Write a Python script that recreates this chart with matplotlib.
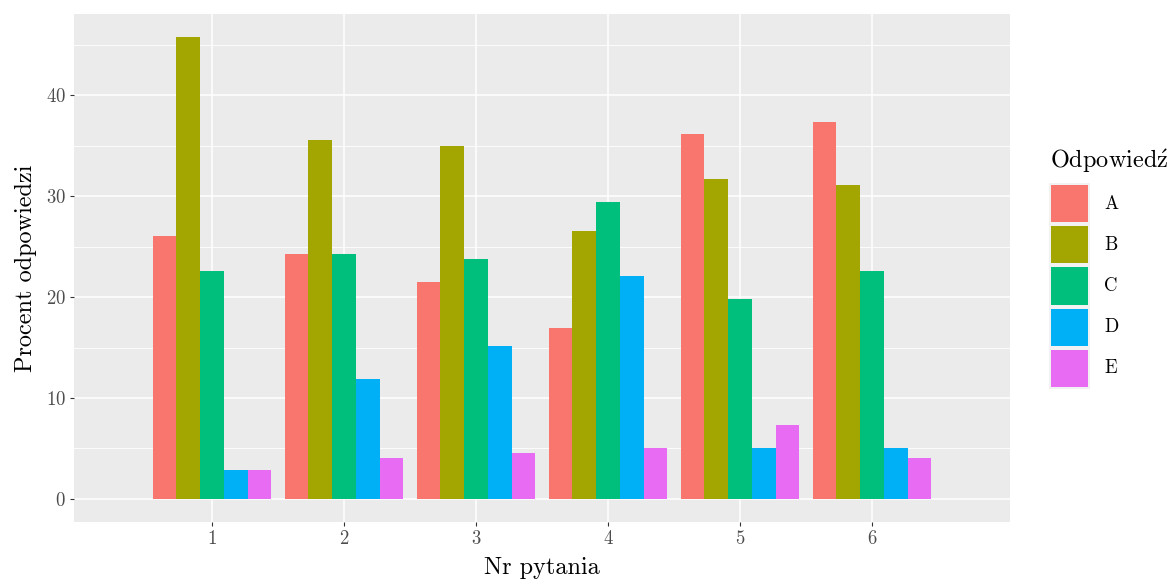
import numpy as np
import matplotlib
matplotlib.use('Agg')
import matplotlib.pyplot as plt
from matplotlib.patches import Rectangle

# Computer Modern look (matplotlib ships cmr10)
plt.rcParams['font.family'] = ['cmr10', 'DejaVu Serif']
plt.rcParams['mathtext.fontset'] = 'cm'
plt.rcParams['axes.formatter.use_mathtext'] = True

# Data: percent of answers per question
questions = [1, 2, 3, 4, 5, 6]
answers = ['A', 'B', 'C', 'D', 'E']
pct_A = [26.1, 24.3, 21.5, 16.9, 36.2, 37.4]
pct_B = [45.8, 35.6, 35.0, 26.6, 31.7, 31.1]
pct_C = [22.6, 24.3, 23.8, 29.4, 19.8, 22.6]
pct_D = [2.9, 11.9, 15.2, 22.1, 5.0, 5.0]
pct_E = [2.9, 4.0, 4.5, 5.0, 7.3, 4.0]
y_ticks = [0, 10, 20, 30, 40]

colors = ['#F8766D', '#A3A500', '#00BF7D', '#00B0F6', '#E76BF3']
series = [pct_A, pct_B, pct_C, pct_D, pct_E]

title_size = 17.5
text_size = 13.5

W, H = 1174, 582
fig = plt.figure(figsize=(W / 100, H / 100), dpi=100)
ax = fig.add_axes([74 / W, 1 - 522 / H, (1010 - 74) / W, (522 - 14) / H])
ax.set_facecolor('#EBEBEB')

# gridlines (ggplot style)
ax.set_xlim(-0.045, 7.045)
ax.set_ylim(-2.3, 48.08)
ax.set_xticks(questions)
ax.set_yticks(y_ticks)
ax.set_yticks([5, 15, 25, 35, 45], minor=True)
ax.grid(which='major', color='white', linewidth=1.1)
ax.grid(which='minor', axis='y', color='white', linewidth=0.6)
ax.set_axisbelow(True)
for s in ax.spines.values():
    s.set_visible(False)

ax.tick_params(axis='both', which='major', length=3, width=0.8, color='#333333',
               labelsize=text_size, labelcolor='#4D4D4D')
ax.tick_params(axis='x', pad=3)
ax.tick_params(axis='y', pad=3)
ax.tick_params(which='minor', length=0)

# dodged bars
x = np.array(questions, dtype=float)
bar_w = 0.9 / len(answers)
for i, (vals, col) in enumerate(zip(series, colors)):
    ax.bar(x + (i - 2) * bar_w, vals, width=bar_w, color=col, linewidth=0)

ax.set_xlabel('Nr pytania', fontsize=title_size, labelpad=6)
ax.set_ylabel('Procent odpowiedzi', fontsize=title_size, labelpad=6)

# legend drawn by hand, ggplot style
fig.text(1050 / W, 1 - 168 / H, r'Odpowied$\acute{\rm z}$', fontsize=title_size,
         ha='left', va='baseline')
key_h = 41.2
for i, (lab, col) in enumerate(zip(answers, colors)):
    top = 183 + i * key_h
    fig.add_artist(Rectangle((1049 / W, 1 - (top + key_h) / H), 41 / W, key_h / H,
                             transform=fig.transFigure, facecolor='#F2F2F2',
                             edgecolor='none'))
    fig.add_artist(Rectangle((1051 / W, 1 - (top + key_h - 2) / H), 37 / W,
                             (key_h - 4) / H, transform=fig.transFigure,
                             facecolor=col, edgecolor='none'))
    fig.text(1104 / W, 1 - (top + key_h / 2) / H, lab, fontsize=text_size,
             ha='left', va='center')

fig.savefig('out.png', dpi=100)
